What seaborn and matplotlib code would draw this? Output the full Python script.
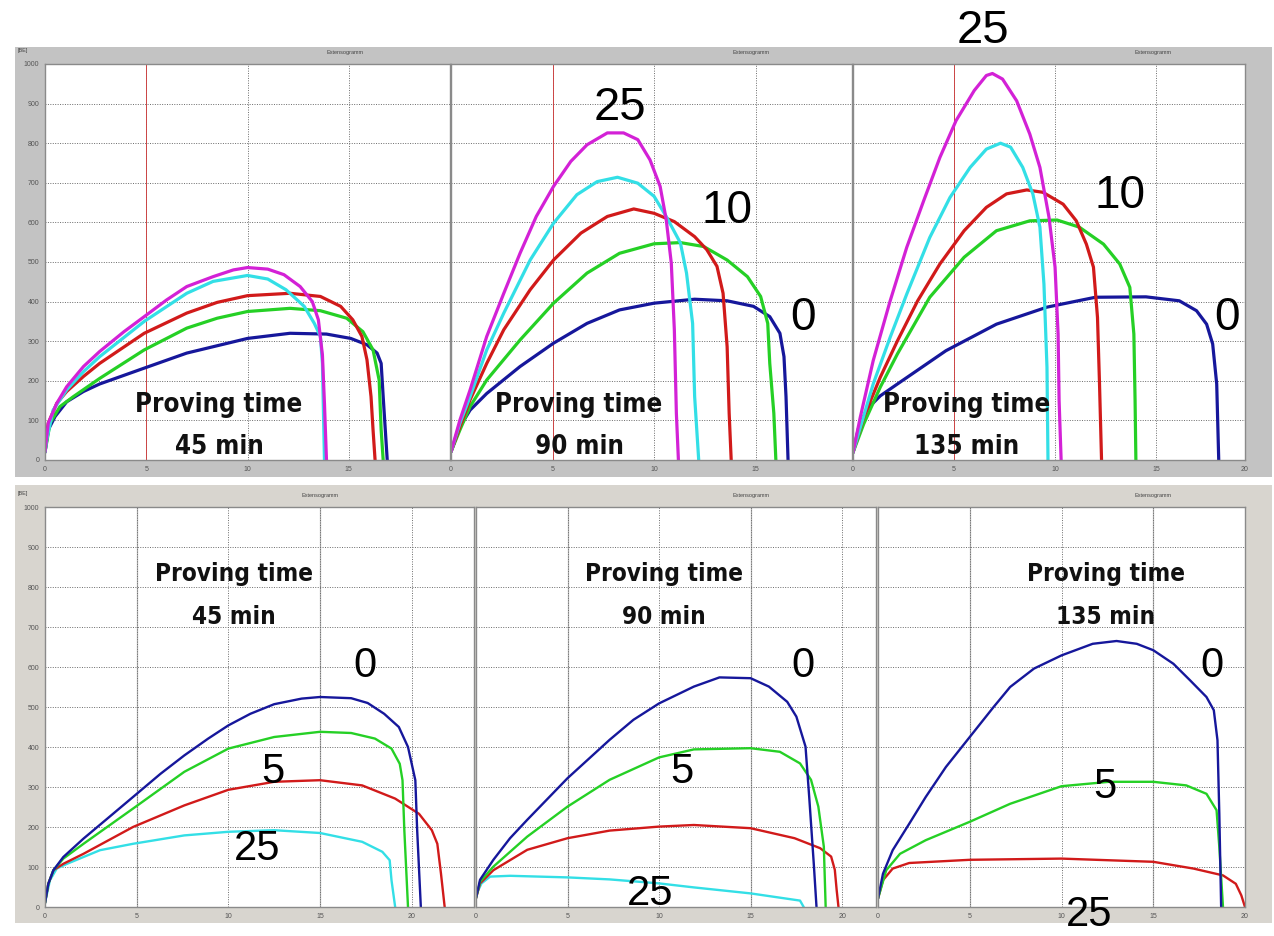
import matplotlib
matplotlib.use('Agg')
import matplotlib.pyplot as plt
import seaborn as sns
from matplotlib.patches import Rectangle
from matplotlib import font_manager

sns.set_style('white')
plt.rcParams['font.family'] = ['Liberation Sans', 'DejaVu Sans']

W, H = 1274, 936

# ---- data (x = extension, y = resistance) ----
# top row: 45 / 90 / 135 min proving
t45_25_x = [0, 0.16, 0.58, 1.07, 1.9, 2.7, 3.9, 4.9, 6.0, 7.0, 8.3, 9.3, 10.0, 11.0, 11.8, 12.6, 13.2, 13.5, 13.7, 13.8, 13.9]
t45_25_y = [20, 93, 143, 185, 236, 274, 324, 362, 404, 438, 463, 480, 486, 482, 468, 438, 400, 354, 265, 143, 0]
t45_15_x = [0, 0.08, 0.4, 1.07, 1.9, 2.7, 4.9, 7.0, 8.3, 10.0, 11.0, 11.9, 12.8, 13.3, 13.6, 13.7, 13.8]
t45_15_y = [20, 50, 126, 177, 223, 261, 350, 421, 451, 466, 457, 430, 388, 345, 312, 244, 0]
t45_10_x = [0, 0.16, 0.58, 1.07, 1.9, 2.7, 4.9, 7.0, 8.5, 10.0, 12.1, 13.6, 14.6, 15.2, 15.65, 15.9, 16.1, 16.2, 16.3]
t45_10_y = [42, 93, 143, 173, 211, 244, 320, 371, 398, 415, 421, 413, 388, 354, 312, 253, 160, 76, 0]
t45_5_x = [0, 0.25, 0.74, 1.4, 2.7, 4.9, 7.0, 8.5, 10.0, 12.1, 13.6, 14.9, 15.7, 16.2, 16.5, 16.6, 16.7]
t45_5_y = [20, 93, 135, 160, 206, 278, 333, 358, 375, 383, 377, 358, 324, 278, 202, 76, 0]
t45_0_x = [0, 0.16, 0.5, 1.07, 1.9, 2.7, 4.9, 7.0, 10.0, 12.1, 13.9, 15.1, 15.9, 16.4, 16.6, 16.7, 16.9]
t45_0_y = [20, 76, 110, 147, 173, 192, 232, 270, 307, 320, 318, 307, 291, 270, 244, 160, 0]

t90_25_x = [0, 0.44, 0.94, 1.76, 2.6, 3.4, 4.2, 5.05, 5.9, 6.7, 7.7, 8.5, 9.2, 9.8, 10.3, 10.6, 10.85, 11.0, 11.1, 11.2]
t90_25_y = [21, 101, 177, 312, 421, 522, 615, 691, 754, 796, 826, 826, 809, 758, 691, 607, 497, 329, 118, 0]
t90_15_x = [0, 0.44, 0.94, 1.76, 2.6, 3.9, 5.05, 6.2, 7.2, 8.2, 9.2, 10.0, 10.6, 11.3, 11.6, 11.9, 12.0, 12.2]
t90_15_y = [21, 93, 160, 278, 371, 505, 598, 670, 703, 714, 699, 666, 615, 548, 472, 345, 160, 0]
t90_10_x = [0, 0.44, 0.94, 1.76, 2.6, 3.9, 5.05, 6.4, 7.7, 9.0, 10.0, 11.0, 12.0, 12.6, 13.1, 13.4, 13.6, 13.7, 13.8]
t90_10_y = [21, 84, 152, 244, 329, 430, 505, 573, 615, 634, 623, 602, 564, 531, 489, 421, 286, 118, 0]
t90_5_x = [0, 0.44, 0.94, 1.76, 3.4, 5.05, 6.7, 8.3, 10.0, 11.3, 12.45, 13.6, 14.6, 15.25, 15.6, 15.7, 15.9, 16.0]
t90_5_y = [21, 76, 135, 202, 303, 396, 472, 522, 546, 549, 539, 505, 463, 413, 345, 244, 118, 0]
t90_0_x = [0, 0.44, 0.94, 1.76, 3.4, 5.05, 6.7, 8.3, 10.0, 12.0, 13.6, 14.9, 15.7, 16.2, 16.4, 16.5, 16.6]
t90_0_y = [21, 84, 126, 168, 236, 295, 345, 379, 396, 406, 402, 388, 362, 320, 261, 160, 0]

t135_25_x = [0, 0.36, 1.0, 1.84, 2.66, 3.5, 4.3, 5.1, 6.0, 6.6, 6.9, 7.4, 8.1, 8.75, 9.25, 9.7, 10.0, 10.15, 10.2, 10.3]
t135_25_y = [19, 108, 251, 402, 537, 655, 764, 857, 933, 971, 976, 962, 907, 823, 739, 613, 487, 318, 150, 0]
t135_15_x = [0, 0.36, 1.0, 1.84, 2.66, 3.8, 4.8, 5.8, 6.6, 7.3, 7.8, 8.4, 8.9, 9.25, 9.45, 9.6, 9.65]
t135_15_y = [19, 82, 192, 310, 419, 562, 663, 739, 785, 800, 790, 739, 672, 588, 444, 234, 0]
t135_10_x = [0, 0.53, 1.35, 2.2, 3.2, 4.3, 5.5, 6.6, 7.6, 8.6, 9.4, 10.4, 11.05, 11.55, 11.9, 12.1, 12.2, 12.3]
t135_10_y = [19, 108, 209, 301, 402, 495, 579, 638, 672, 682, 676, 646, 604, 545, 487, 360, 192, 0]
t135_5_x = [0, 0.53, 1.35, 2.2, 3.8, 5.5, 7.1, 8.75, 10.1, 11.2, 12.4, 13.2, 13.7, 13.9, 13.96, 14.0]
t135_5_y = [19, 91, 184, 268, 411, 512, 579, 604, 606, 588, 545, 495, 436, 318, 150, 0]
t135_0_x = [0, 0.28, 0.7, 1.35, 2.2, 4.6, 7.1, 9.6, 12.0, 14.5, 16.15, 17.0, 17.5, 17.8, 18.0, 18.1]
t135_0_y = [19, 82, 129, 162, 192, 276, 343, 386, 411, 412, 402, 377, 343, 293, 192, 0]

# bottom row: 45 / 90 / 135 min proving
b45_0_x = [0, 0.18, 0.46, 1.0, 2.1, 3.4, 4.8, 6.3, 7.6, 8.9, 10.0, 11.2, 12.5, 14.0, 15.0, 16.7, 17.6, 18.5, 19.3, 19.8, 20.2, 20.3, 20.5]
b45_0_y = [10, 58, 92, 125, 171, 221, 275, 333, 379, 421, 454, 483, 507, 521, 525, 522, 510, 483, 450, 400, 317, 192, 0]
b45_5_x = [0, 0.18, 0.46, 1.0, 2.1, 4.8, 7.6, 10.0, 12.5, 15.0, 16.7, 18.0, 18.9, 19.35, 19.5, 19.6, 19.8]
b45_5_y = [10, 58, 92, 121, 158, 246, 338, 396, 425, 438, 435, 421, 396, 358, 317, 192, 0]
b45_10_x = [0, 0.18, 0.46, 1.0, 2.1, 4.8, 7.6, 10.0, 12.5, 15.0, 17.3, 19.1, 20.4, 21.1, 21.4, 21.6, 21.8]
b45_10_y = [10, 58, 92, 108, 133, 200, 254, 293, 313, 317, 304, 271, 233, 192, 158, 83, 0]
b45_25_x = [0, 0.27, 0.64, 1.2, 3.0, 4.8, 7.6, 10.0, 12.5, 15.0, 17.3, 18.4, 18.8, 18.9, 19.1]
b45_25_y = [10, 67, 96, 108, 142, 158, 179, 188, 192, 185, 163, 138, 117, 67, 0]

b90_0_x = [0, 0.22, 0.95, 1.86, 2.8, 5.0, 7.3, 8.6, 10.0, 11.9, 13.3, 15.0, 16.0, 17.0, 17.5, 18.0, 18.2, 18.45, 18.6]
b90_0_y = [22, 68, 118, 172, 218, 322, 418, 468, 509, 551, 574, 572, 551, 513, 476, 401, 276, 109, 0]
b90_5_x = [0, 0.22, 0.95, 2.8, 5.0, 7.3, 10.0, 11.9, 15.0, 16.6, 17.7, 18.3, 18.7, 19.0, 19.1]
b90_5_y = [22, 63, 101, 176, 251, 318, 374, 394, 397, 388, 359, 318, 251, 151, 0]
b90_10_x = [0, 0.22, 0.95, 2.8, 5.0, 7.3, 10.0, 11.9, 15.0, 17.4, 18.8, 19.4, 19.6, 19.7, 19.8]
b90_10_y = [22, 59, 92, 143, 172, 191, 201, 205, 197, 172, 147, 126, 93, 43, 0]
b90_25_x = [0, 0.3, 0.77, 1.86, 5.0, 7.3, 10.0, 11.9, 15.0, 17.7, 17.9]
b90_25_y = [30, 59, 76, 78, 74, 69, 59, 49, 34, 16, 0]

b135_0_x = [0, 0.27, 0.8, 1.7, 2.6, 3.7, 5.0, 6.3, 7.2, 8.5, 10.0, 11.7, 13.0, 14.1, 15.0, 16.1, 17.0, 17.9, 18.3, 18.5, 18.6, 18.7]
b135_0_y = [21, 83, 142, 208, 275, 350, 425, 500, 550, 596, 629, 658, 665, 658, 642, 608, 567, 525, 492, 417, 233, 0]
b135_5_x = [0, 0.45, 1.2, 2.6, 5.0, 7.2, 10.0, 12.6, 15.0, 16.8, 17.9, 18.45, 18.6, 18.8]
b135_5_y = [21, 92, 133, 167, 213, 258, 302, 313, 313, 304, 283, 242, 150, 0]
b135_10_x = [0, 0.27, 0.8, 1.7, 5.0, 10.0, 15.0, 17.2, 18.8, 19.5, 19.8, 20.0]
b135_10_y = [21, 67, 96, 110, 118, 121, 113, 96, 79, 58, 29, 0]

MAG, CYA, RED, GRN, BLU = '#d321d6', '#33dfe6', '#d11a1a', '#25d025', '#16179b'

top_panels = [
    [(t45_0_x, t45_0_y, BLU), (t45_5_x, t45_5_y, GRN), (t45_10_x, t45_10_y, RED),
     (t45_15_x, t45_15_y, CYA), (t45_25_x, t45_25_y, MAG)],
    [(t90_0_x, t90_0_y, BLU), (t90_5_x, t90_5_y, GRN), (t90_10_x, t90_10_y, RED),
     (t90_15_x, t90_15_y, CYA), (t90_25_x, t90_25_y, MAG)],
    [(t135_0_x, t135_0_y, BLU), (t135_5_x, t135_5_y, GRN), (t135_10_x, t135_10_y, RED),
     (t135_15_x, t135_15_y, CYA), (t135_25_x, t135_25_y, MAG)],
]
bottom_panels = [
    [(b45_25_x, b45_25_y, CYA), (b45_10_x, b45_10_y, RED), (b45_5_x, b45_5_y, GRN), (b45_0_x, b45_0_y, BLU)],
    [(b90_25_x, b90_25_y, CYA), (b90_10_x, b90_10_y, RED), (b90_5_x, b90_5_y, GRN), (b90_0_x, b90_0_y, BLU)],
    [(b135_10_x, b135_10_y, RED), (b135_5_x, b135_5_y, GRN), (b135_0_x, b135_0_y, BLU)],
]
proving = ['45 min', '90 min', '135 min']

# look for a narrow bold face for the captions (Arial Narrow look)
narrow_fp = None
for f in font_manager.fontManager.ttflist:
    if ('Narrow' in f.name or f.stretch in ('condensed', 'semi-condensed')) and f.weight in (700, 'bold'):
        narrow_fp = f.fname
        break

fig = plt.figure(figsize=(W / 100, H / 100), dpi=100)


def box(l, t, r, b):
    return [l / W, 1 - b / H, (r - l) / W, (b - t) / H]


def ptxt(x, y, s, **kw):
    fig.text(x / W, 1 - y / H, s, **kw)


# grey window frames of the two screenshots
fig.add_artist(Rectangle((15 / W, 1 - 477 / H), 1257 / W, 430 / H, transform=fig.transFigure,
                         facecolor='#c3c3c3', edgecolor='none', zorder=0))
fig.add_artist(Rectangle((15 / W, 1 - 923 / H), 1257 / W, 438 / H, transform=fig.transFigure,
                         facecolor='#d8d5cf', edgecolor='none', zorder=0))


def style_axis(ax, xmax, first, xticks, xlabels):
    ax.set_xlim(0, xmax)
    ax.set_ylim(0, 1000)
    ax.set_facecolor('white')
    ax.set_xticks(xticks)
    ax.set_xticklabels(xlabels)
    ax.set_yticks(range(0, 1001, 100))
    if not first:
        ax.set_yticklabels([])
    ax.tick_params(labelsize=5, colors='#555555', length=2, pad=2)
    ax.grid(True, linestyle=(0, (1, 1.5)), color='#6a6a6a', lw=0.7)
    for s in ax.spines.values():
        s.set_color('#8a8a8a')
        s.set_linewidth(1.0)
    ax.set_xlabel('')
    ax.set_ylabel('')


top_boxes = [(45, 450, 20.0), (451, 852, 19.75), (853, 1245, 19.4)]
for i, (l, r, xmax) in enumerate(top_boxes):
    ax = fig.add_axes(box(l, 64, r, 460))
    for x, y, c in top_panels[i]:
        sns.lineplot(x=x, y=y, ax=ax, color=c, lw=2.3, sort=False, estimator=None)
    ax.axvline(5, color='#cc4444', lw=0.7, zorder=1)
    if i == 2:
        style_axis(ax, xmax, False, [0, 5, 10, 15, xmax], ['0', '5', '10', '15', '20'])
    else:
        style_axis(ax, xmax, i == 0, [0, 5, 10, 15], ['0', '5', '10', '15'])
    ptxt(l + 300, 54, 'Extensogramm', fontsize=4, color='#444444', ha='center')

bot_boxes = [(45, 474, 23.4), (476, 876, 21.85), (878, 1245, 20.0)]
for i, (l, r, xmax) in enumerate(bot_boxes):
    ax = fig.add_axes(box(l, 507, r, 907))
    for x, y, c in bottom_panels[i]:
        sns.lineplot(x=x, y=y, ax=ax, color=c, lw=1.7, sort=False, estimator=None)
    style_axis(ax, xmax, i == 0, [0, 5, 10, 15, 20], ['0', '5', '10', '15', '20'])
    # the 5 and 15 verticals are solid in this screenshot
    for xv in (5, 15):
        ax.axvline(xv, color='#b5b5b5', lw=0.9, zorder=0.5)
    ptxt(l + 275, 497, 'Extensogramm', fontsize=4, color='#444444', ha='center')

ptxt(18, 52, '[BE]', fontsize=4, color='#444444')
ptxt(18, 495, '[BE]', fontsize=4, color='#444444')

# "Proving time" captions
if narrow_fp:
    cap = dict(ha='center', va='baseline', fontproperties=font_manager.FontProperties(fname=narrow_fp),
               color='#111111')
    fs_top, fs_bot = 18.5, 17.5
else:
    cap = dict(ha='center', va='baseline', fontweight='bold', color='#111111')
    fs_top, fs_bot = 18, 17
for cx, p in zip([219, 579, 967], proving):
    ptxt(cx, 412, 'Proving time', fontsize=fs_top, **cap)
    ptxt(cx, 454, p, fontsize=fs_top, **cap)
for cx, p in zip([234, 664, 1106], proving):
    ptxt(cx, 581, 'Proving time', fontsize=fs_bot, **cap)
    ptxt(cx, 624, p, fontsize=fs_bot, **cap)

# curve labels
num = dict(ha='center', va='baseline', color='black')
for x, y, s, fs in [(620, 120, '25', 34), (727, 223, '10', 33), (803, 330, '0', 33),
                    (983, 43, '25', 34), (1120, 208, '10', 33), (1227, 330, '0', 33),
                    (365, 677, '0', 30), (273, 783, '5', 30), (257, 860, '25', 30),
                    (803, 677, '0', 30), (682, 783, '5', 30), (650, 905, '25', 30),
                    (1212, 677, '0', 30), (1105, 798, '5', 30), (1089, 926, '25', 30)]:
    ptxt(x, y, s, fontsize=fs, **num)

fig.savefig('out.png', dpi=100)
